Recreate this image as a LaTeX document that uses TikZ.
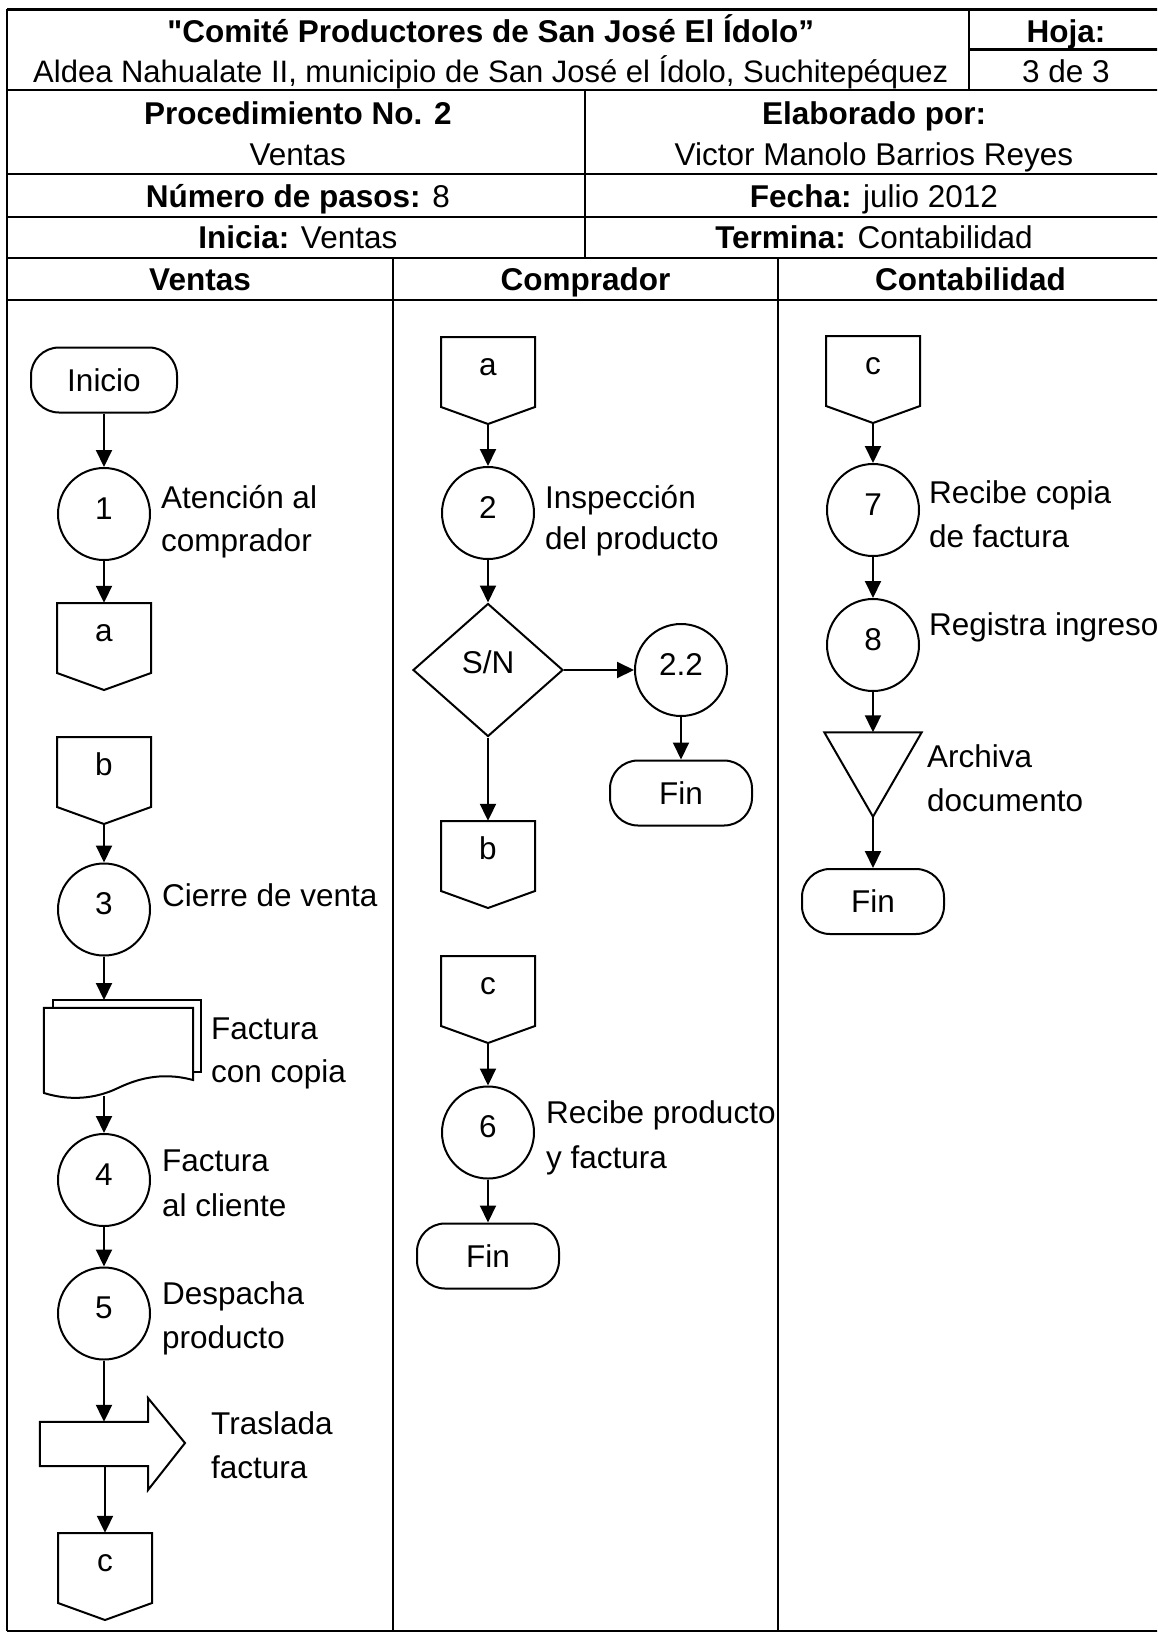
\documentclass[tikz,border=0pt]{standalone}
\usepackage{fontspec}
\setmainfont{Liberation Sans}
\usetikzlibrary{arrows.meta,shapes.geometric}
\newcommand\offpage[4]{%
  \node[opbody] (#1) at (#2,#3+35) {};
  \draw[sline] (#2-47,#3) -- (#2+47,#3) -- (#2+47,#3+70) -- (#2,#3+87) -- (#2-47,#3+70) -- cycle;
  \coordinate (#1-tip) at (#2,#3+87);
  \node[txt] (#1-lbl) at (#2,#3+27) {#4};
}
\newcommand\straightquote{\XeTeXglyph\XeTeXcharglyph"22\relax}
\begin{document}
\begin{tikzpicture}[x=1pt,y=-1pt,
  tline/.style={line width=2.4pt},
  sline/.style={line width=2pt},
  arr/.style={line width=2pt,-{Triangle[length=17pt,width=16pt]}},
  txt/.style={font=\fontsize{31.5}{38}\selectfont, inner sep=0pt, text height=22.6pt, text depth=0pt},
  btxt/.style={txt, font=\fontsize{31.5}{38}\selectfont\bfseries},
  lbl/.style={txt, anchor=west},
  circ/.style={circle, draw, sline, minimum size=92pt, inner sep=0pt, txt, text depth=12pt},
  term/.style={rectangle, rounded corners=28pt, draw, sline, minimum width=142pt, minimum height=65pt, inner sep=0pt, txt},
  opbody/.style={rectangle, draw=none, minimum width=94pt, minimum height=70pt, inner sep=0pt},
  hidden/.style={rectangle, draw=none, inner sep=0pt}
]
\useasboundingbox (0,0) rectangle (1157,1633);
\clip (0,0) rectangle (1157,1633);
% ---------- table frame ----------
\draw[tline] (7,9.3) -- (1163,9.3);
\draw[tline] (969,49.3) -- (1163,49.3);
\draw[tline] (7,90) -- (1163,90);
\draw[tline] (7,174) -- (1163,174);
\draw[tline] (7,216.7) -- (1163,216.7);
\draw[tline] (7,258) -- (1163,258);
\draw[tline] (7,300) -- (1163,300);
\draw[tline] (7,1631) -- (1163,1631);
\draw[tline] (7,9.3) -- (7,1631);
\draw[tline] (969,9.3) -- (969,90);
\draw[tline] (585,90) -- (585,258);
\draw[tline] (393,258) -- (393,1631);
\draw[tline] (778,258) -- (778,1631);
% ---------- header texts ----------
\node[btxt] (title) at (490.8,31) {\straightquote Comité Productores de San José El Ídolo”};
\node[txt, font=\fontsize{31}{38}\selectfont] (aldea) at (490.8,71) {Aldea Nahualate II, municipio de San José el Ídolo, Suchitepéquez};
\node[btxt] (hoja) at (1066,31) {Hoja:};
\node[txt] (pag) at (1066,71) {3 de 3};
\node[btxt] (proc) at (297.8,113) {Procedimiento No. 2};
\node[txt] (procv) at (297.8,154) {Ventas};
\node[btxt] (elab) at (874,113) {Elaborado por:};
\node[txt] (elabv) at (874,154) {Victor Manolo Barrios Reyes};
\node[txt] (pasos) at (297.8,196) {\textbf{Número de pasos:} 8};
\node[txt] (fecha) at (874,196) {\textbf{Fecha:} julio 2012};
\node[txt] (inicia) at (297.8,237) {\textbf{Inicia:} Ventas};
\node[txt] (termina) at (874,237) {\textbf{Termina:} Contabilidad};
\node[btxt] (hv) at (200,279) {Ventas};
\node[btxt] (hc) at (585.5,279) {Comprador};
\node[btxt] (hk) at (970.5,279) {Contabilidad};
% ---------- Ventas lane ----------
\node[term, minimum width=146pt] (inicio) at (104,380) {Inicio};
\node[circ] (c1) at (104,514) {1};
\node[lbl] (l1a) at (161,497) {Atención al};
\node[lbl] (l1b) at (161,540) {comprador};
\offpage{va}{104}{603}{a}
\offpage{vb}{104}{737}{b}
\node[circ] (c3) at (104,909.5) {3};
\node[lbl] (l3) at (162,895) {Cierre de venta};
% document with copy
\node[hidden, minimum width=149pt, minimum height=85pt] (doc) at (118.5,1050.5) {};
\draw[sline] (53,1008) -- (53,1000) -- (201,1000) -- (201,1072) -- (193,1072);
\draw[sline] (doc.north west) -- (doc.north east) -- (193,1080)
   .. controls (160,1071) and (135,1080) .. (118,1088)
   .. controls (95,1099) and (70,1101) .. (44,1093) -- cycle;
\coordinate (docin) at (104,1000);
\coordinate (docout) at (104,1096);
\node[lbl] (ldoca) at (211,1028) {Factura};
\node[lbl] (ldocb) at (211,1071) {con copia};
\node[circ] (c4) at (104,1180) {4};
\node[lbl] (l4a) at (162,1160) {Factura};
\node[lbl] (l4b) at (162,1205) {al cliente};
\node[circ] (c5) at (104,1313.5) {5};
\node[lbl] (l5a) at (162,1293) {Despacha};
\node[lbl] (l5b) at (162,1337) {producto};
% block arrow
\node[hidden, minimum width=108pt, minimum height=44pt] (tras) at (94,1444) {};
\draw[sline] (tras.north west) -- (tras.north east) -- (148,1398) -- (185,1443)
   -- (148,1490) -- (tras.south east) -- (tras.south west) -- cycle;
\node[lbl] (ltra) at (211,1423) {Traslada};
\node[lbl] (ltrb) at (211,1467) {factura};
\offpage{vc}{105}{1533}{c}
% arrows Ventas
\draw[arr] (inicio) -- (c1);
\draw[arr] (c1) -- (va);
\draw[arr] (vb-tip) -- (c3);
\draw[arr] (c3) -- (docin);
\draw[arr] (docout) -- (c4);
\draw[arr] (c4) -- (c5);
\draw[arr] (c5) -- (c5 |- tras.north);
\draw[arr] (vc |- tras.south) -- (vc);
% ---------- Comprador lane ----------
\offpage{ca}{488}{337}{a}
\node[circ] (c2) at (488,513) {2};
\node[lbl] (l2a) at (545,497) {Inspección};
\node[lbl] (l2b) at (545,538) {del producto};
\node[diamond, draw, sline, minimum width=150pt, minimum height=133pt, inner sep=0pt, txt, text depth=15pt] (dec) at (488,670) {S/N};
\node[circ] (c22) at (681,670) {2.2};
\node[term] (fin1) at (681,793) {Fin};
\offpage{cb}{488}{821}{b}
\offpage{cc}{488}{956}{c}
\node[circ] (c6) at (488,1132.5) {6};
\node[lbl] (l6a) at (546,1112) {Recibe producto};
\node[lbl] (l6b) at (546,1157) {y factura};
\node[term] (fin2) at (488,1256) {Fin};
\draw[arr] (ca-tip) -- (c2);
\draw[arr] (c2) -- (dec);
\draw[arr] (dec) -- (c22);
\draw[arr] (c22) -- (fin1);
\draw[arr] (dec) -- (cb);
\draw[arr] (cc-tip) -- (c6);
\draw[arr] (c6) -- (fin2);
% ---------- Contabilidad lane ----------
\offpage{ka}{873}{336}{c}
\node[circ] (c7) at (873,510) {7};
\node[lbl] (l7a) at (929,492) {Recibe copia};
\node[lbl] (l7b) at (929,536) {de factura};
\node[circ] (c8) at (873,645) {8};
\node[lbl] (l8) at (929,624) {Registra ingreso};
\node[hidden, minimum width=97pt, minimum height=84pt] (arch) at (873,774.5) {};
\draw[sline] (arch.north west) -- (arch.north east) -- (arch.south) -- cycle;
\node[lbl] (larA) at (927,756) {Archiva};
\node[lbl] (larB) at (927,800) {documento};
\node[term] (fin3) at (873,901.5) {Fin};
\draw[arr] (ka-tip) -- (c7);
\draw[arr] (c7) -- (c8);
\draw[arr] (c8) -- (arch.north);
\draw[arr] (arch.south) -- (fin3);
\end{tikzpicture}
\end{document}
